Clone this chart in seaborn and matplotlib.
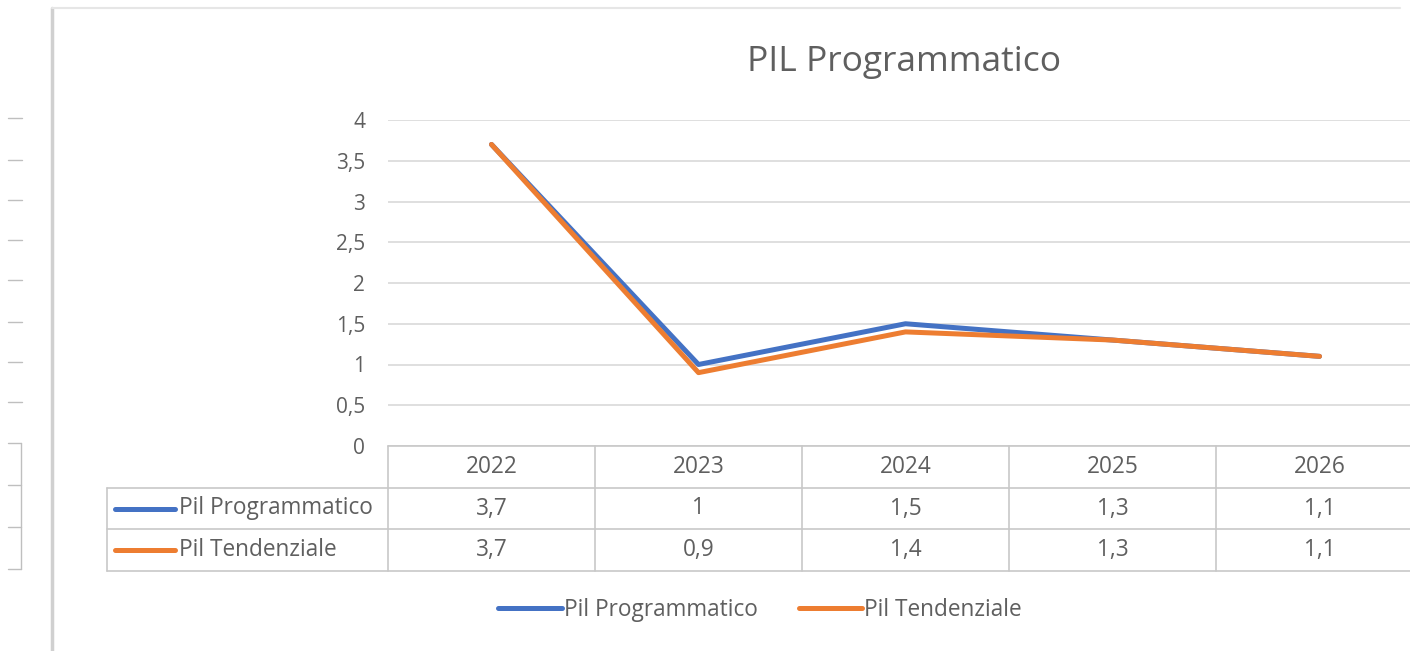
import numpy as np
import pandas as pd
import matplotlib
matplotlib.use('Agg')
import matplotlib.pyplot as plt
import seaborn as sns
from matplotlib.lines import Line2D
from matplotlib.ticker import FuncFormatter

years = ['2022', '2023', '2024', '2025', '2026']
pil_programmatico = [3.7, 1.0, 1.5, 1.3, 1.1]
pil_tendenziale = [3.7, 0.9, 1.4, 1.3, 1.1]
series_names = ['Pil Programmatico', 'Pil Tendenziale']
colors = ['#4472C4', '#ED7D31']
title = 'PIL Programmatico'

df = pd.DataFrame({'anno': years * 2,
                   'valore': pil_programmatico + pil_tendenziale,
                   'serie': [series_names[0]] * 5 + [series_names[1]] * 5})

sns.set_theme(style='white')
plt.rcParams['font.family'] = ['Open Sans', 'DejaVu Sans']
grey = '#5F5F5F'
gridc = '#D9D9D9'
fs = 16.3

W, H = 1410, 651
fig = plt.figure(figsize=(W / 100, H / 100), dpi=100)

# plot area in pixels: x 388 -> 1423, y 120 (=4) -> 446 (=0)
band = 207
left_px, right_px = 388, 388 + 5 * band
ax = fig.add_axes([left_px / W, 1 - 446 / H, (right_px - left_px) / W, (446 - 120) / H])
sns.lineplot(data=df, x='anno', y='valore', hue='serie', palette=colors,
             linewidth=3.6, ax=ax, legend=False, sort=False)
ax.set_xlim(-0.5, 4.5)
ax.set_ylim(0, 4)
ax.set_yticks(np.arange(0, 4.01, 0.5))
ax.yaxis.set_major_formatter(FuncFormatter(lambda v, p: ('%g' % v).replace('.', ',')))
ax.grid(axis='y', color=gridc, linewidth=1.2)
ax.set_xticks([])
ax.set_xlabel('')
ax.set_ylabel('')
for s in ax.spines.values():
    s.set_visible(False)
ax.tick_params(axis='y', length=0, pad=16.5, labelsize=15, labelcolor=grey)

# data table under the plot
lab_w = (left_px - 107) / band
tax = fig.add_axes([107 / W, 1 - 571 / H, (right_px - 107) / W, (571 - 446) / H])
tax.set_xlim(-0.5 - lab_w, 4.5)
tax.set_ylim(3, 0)
tax.axis('off')
tcol = '#C8C8C8'
tax.plot([-0.5, 4.5], [0, 0], color=tcol, lw=1.2, clip_on=False)
for r in [1, 2, 3]:
    tax.plot([-0.5 - lab_w, 4.5], [r, r], color=tcol, lw=1.2, clip_on=False)
tax.plot([-0.5 - lab_w] * 2, [1, 3], color=tcol, lw=1.2, clip_on=False)
for c in np.arange(-0.5, 4.0, 1):
    tax.plot([c, c], [0, 3], color=tcol, lw=1.2, clip_on=False)
for i, y in enumerate(years):
    tax.text(i, 0.5, y, ha='center', va='center', fontsize=fs, color=grey)
    tax.text(i, 1.5, ('%g' % pil_programmatico[i]).replace('.', ','), ha='center', va='center', fontsize=fs, color=grey)
    tax.text(i, 2.5, ('%g' % pil_tendenziale[i]).replace('.', ','), ha='center', va='center', fontsize=fs, color=grey)
x0 = -0.5 - lab_w
for r, (name, col) in enumerate(zip(series_names, colors)):
    tax.plot([x0 + 8 / band, x0 + 68 / band], [1.5 + r] * 2, color=col, lw=3.6, solid_capstyle='round')
    tax.text(x0 + 72 / band, 1.5 + r, name, ha='left', va='center', fontsize=fs, color=grey)

fig.text(904 / W, 1 - 62 / H, title, ha='center', va='center', fontsize=25.5, color=grey)

handles = [Line2D([], [], color=c, lw=3.6) for c in colors]
fig.legend(handles, series_names, loc='center', bbox_to_anchor=(760 / W, 1 - 610 / H),
           ncol=2, frameon=False, fontsize=fs, labelcolor=grey, handlelength=2.8,
           handletextpad=0.1, columnspacing=1.8)

# bits of the surrounding screenshot: frame edge and neighbouring chart
fig.add_artist(Line2D([52 / W, 52 / W], [0, 1 - 8 / H], color='#D0D0D0', lw=2.5))
fig.add_artist(Line2D([52 / W, 1400 / W], [1 - 8 / H] * 2, color='#E6E6E6', lw=1.5))
for yy in [118, 160, 200, 240, 280, 322, 362, 402]:
    fig.add_artist(Line2D([8 / W, 22 / W], [1 - yy / H] * 2, color='#BFBFBF', lw=1))
for yy in [443, 485, 527, 569]:
    fig.add_artist(Line2D([8 / W, 21 / W], [1 - yy / H] * 2, color='#BFBFBF', lw=1))
fig.add_artist(Line2D([21 / W, 21 / W], [1 - 569 / H, 1 - 443 / H], color='#BFBFBF', lw=1))

fig.savefig('out.png', dpi=100)
